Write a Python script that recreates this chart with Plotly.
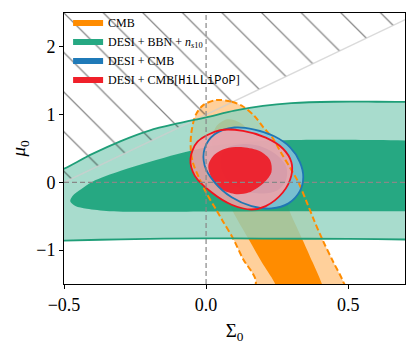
import plotly.graph_objects as go

# ---------------- axis ticks ----------------
x_ticks = [-0.5, 0.0, 0.5]
x_ticklabels = ["\u22120.5", "0.0", "0.5"]
y_ticks = [-1, 0, 1, 2]
y_ticklabels = ["\u22121", "0", "1", "2"]
x_range = [-0.5, 0.7]
y_range = [-1.5, 2.5]

# ---------------- excluded region (mu0 > 1 + 2 Sigma0) ----------------
excl_sigma = [-0.6, 0.8, 0.8, -0.6, -0.6]
excl_mu = [-0.2, 2.6, 2.7, 2.7, -0.2]
excl_line_sigma = [-0.6, 0.8]
excl_line_mu = [-0.2, 2.6]

# ---------------- CMB (orange) ----------------
cmb2_sigma = [0.035, 0.09, 0.13, 0.17, 0.20, 0.235, 0.262, 0.295, 0.325, 0.353, 0.38, 0.41, 0.447, 0.482, 0.51,
              0.16, 0.175, 0.13, 0.094, 0.06, 0.035, 0.0, -0.024, -0.047, -0.054, -0.052, -0.036, -0.01, 0.035]
cmb2_mu = [1.215, 1.19, 1.12, 0.98, 0.82, 0.65, 0.45, 0.22, 0.0, -0.28, -0.56, -0.85, -1.17, -1.46, -1.8,
           -1.8, -1.45, -1.13, -0.82, -0.58, -0.40, -0.15, 0.06, 0.30, 0.50, 0.73, 1.0, 1.14, 1.215]
cmb1_sigma = [0.075, 0.12, 0.16, 0.20, 0.235, 0.262, 0.294, 0.318, 0.341, 0.375, 0.406, 0.43,
              0.27, 0.241, 0.195, 0.153, 0.094, 0.055, 0.03, 0.022, 0.035, 0.075]
cmb1_mu = [0.93, 0.88, 0.72, 0.52, 0.28, 0.02, -0.425, -0.65, -0.86, -1.18, -1.48, -1.8,
           -1.8, -1.48, -1.17, -0.86, -0.425, -0.05, 0.30, 0.60, 0.82, 0.93]

# ---------------- DESI + BBN + ns10 (green) ----------------
bbn2_sigma = [-0.7, -0.6, -0.5, -0.4, -0.3, -0.2, -0.1, 0.0, 0.1, 0.2, 0.3, 0.45, 0.6, 0.75, 0.85, 0.95,
              0.95, 0.85, 0.75, 0.5, 0.2, 0.0, -0.3, -0.5, -0.6, -0.7, -0.7]
bbn2_mu = [-0.2, 0.0, 0.20, 0.42, 0.61, 0.765, 0.87, 0.96, 1.06, 1.13, 1.17, 1.19, 1.19, 1.185, 1.18, 1.18,
           -0.845, -0.845, -0.845, -0.835, -0.83, -0.826, -0.84, -0.86, -0.86, -0.86, -0.2]
bbn1_sigma = [-0.478, -0.47, -0.44, -0.40, -0.3, -0.2, -0.1, 0.0, 0.1, 0.2, 0.3, 0.45, 0.6, 0.75, 0.85, 0.95,
              0.95, 0.85, 0.75, 0.6, 0.3, 0.0, -0.2, -0.34, -0.42, -0.46, -0.478]
bbn1_mu = [-0.28, -0.2, -0.1, 0.01, 0.17, 0.30, 0.42, 0.52, 0.58, 0.61, 0.625, 0.63, 0.625, 0.615, 0.61, 0.61,
           -0.425, -0.425, -0.425, -0.425, -0.425, -0.43, -0.435, -0.425, -0.39, -0.35, -0.28]

# ---------------- DESI + CMB (blue) ----------------
dc2_sigma = [0.10, 0.17, 0.24, 0.295, 0.33, 0.342, 0.33, 0.29, 0.23, 0.16, 0.09, 0.03, -0.005, -0.005, 0.03, 0.10]
dc2_mu = [0.81, 0.78, 0.68, 0.52, 0.30, 0.08, -0.13, -0.31, -0.385, -0.35, -0.22, 0.0, 0.25, 0.50, 0.71, 0.81]
dc1_sigma = [0.08, 0.14, 0.20, 0.25, 0.283, 0.28, 0.25, 0.20, 0.13, 0.07, 0.05, 0.055, 0.08]
dc1_mu = [0.52, 0.565, 0.52, 0.40, 0.22, 0.02, -0.12, -0.165, -0.12, 0.05, 0.25, 0.42, 0.52]

# ---------------- DESI + CMB[HiLLiPoP] (red) ----------------
dh2_sigma = [0.05, 0.13, 0.21, 0.27, 0.30, 0.30, 0.27, 0.21, 0.16, 0.09, 0.02, -0.04, -0.055, -0.03, 0.05]
dh2_mu = [0.77, 0.76, 0.66, 0.50, 0.30, 0.10, -0.15, -0.35, -0.40, -0.33, -0.15, 0.10, 0.35, 0.60, 0.77]
dh1_sigma = [0.07, 0.13, 0.19, 0.225, 0.23, 0.205, 0.15, 0.10, 0.05, 0.02, 0.008, 0.03, 0.07]
dh1_mu = [0.50, 0.52, 0.46, 0.33, 0.15, 0.0, -0.15, -0.17, -0.09, 0.06, 0.25, 0.41, 0.50]

# ---------------- legend ----------------
legend_names = ["CMB", "DESI + BBN + <i>n</i><sub><i>s</i>10</sub>", "DESI + CMB",
                "DESI + CMB[<span style=\"font-family:'Liberation Mono'\">HiLLiPoP</span>]"]
legend_colors = ["#ff8c00", "#26a882", "#1f7ab8", "#f0202a"]

SERIF = "'Liberation Serif', 'DejaVu Serif', serif"

fig = go.Figure()


def fill_region(xs, ys, color):
    fig.add_trace(go.Scatter(x=xs, y=ys, mode="lines", fill="toself", fillcolor=color,
                             line=dict(width=0, color="rgba(0,0,0,0)", shape="spline", smoothing=0.9),
                             showlegend=False, hoverinfo="skip"))


def outline(xs, ys, color, width=1.8, dash="solid"):
    fig.add_trace(go.Scatter(x=xs, y=ys, mode="lines",
                             line=dict(width=width, color=color, dash=dash, shape="spline", smoothing=0.9),
                             showlegend=False, hoverinfo="skip"))


# CMB fills
fill_region(cmb2_sigma, cmb2_mu, "#ffd09b")
fill_region(cmb1_sigma, cmb1_mu, "#ff8c00")
# green fills
fill_region(bbn2_sigma, bbn2_mu, "rgba(146,211,192,0.8)")
fill_region(bbn1_sigma, bbn1_mu, "rgba(5,155,111,0.8)")

# hatched excluded region
fig.add_trace(go.Scatter(x=excl_sigma, y=excl_mu, mode="lines", fill="toself",
                         fillcolor="rgba(0,0,0,0)",
                         fillpattern=dict(shape="\\", fgcolor="#111111", bgcolor="rgba(0,0,0,0)",
                                          size=28, solidity=0.045),
                         line=dict(width=0, color="rgba(0,0,0,0)"),
                         showlegend=False, hoverinfo="skip"))
fig.add_trace(go.Scatter(x=excl_line_sigma, y=excl_line_mu, mode="lines",
                         line=dict(width=1.5, color="rgba(205,205,205,0.75)"),
                         showlegend=False, hoverinfo="skip"))

# blue fills
fill_region(dc2_sigma, dc2_mu, "rgba(135,195,222,0.85)")
fill_region(dc1_sigma, dc1_mu, "rgba(40,110,170,0.8)")
# red fills
fill_region(dh2_sigma, dh2_mu, "rgba(243,162,168,0.85)")
fill_region(dh1_sigma, dh1_mu, "rgba(238,24,34,0.9)")

# outlines
outline(cmb2_sigma, cmb2_mu, "#ff8c00", width=2, dash="6px,3px")
outline(bbn2_sigma, bbn2_mu, "#1f9e78", width=1.8)
outline(dc2_sigma, dc2_mu, "#1f77b4", width=1.8)
outline(dh2_sigma, dh2_mu, "#f0141e", width=1.8)

# reference lines
fig.add_vline(x=0, line=dict(color="#888888", width=1.2, dash="5px,3px"))
fig.add_hline(y=0, line=dict(color="#888888", width=1.2, dash="5px,3px"))

# legend entries
for name, color in zip(legend_names, legend_colors):
    fig.add_trace(go.Scatter(x=[None], y=[None], mode="lines", fill="toself", fillcolor=color,
                             line=dict(width=0, color=color), name=name, showlegend=True))

fig.update_layout(
    width=414, height=348,
    margin=dict(l=64, r=9, t=8, b=64),
    paper_bgcolor="white", plot_bgcolor="white",
    font=dict(family=SERIF, color="black"),
    showlegend=True,
    legend=dict(x=0.012, y=1.02, xanchor="left", yanchor="top",
                bgcolor="rgba(0,0,0,0)",
                font=dict(family=SERIF, size=12, color="black"), borderwidth=0,
                tracegroupgap=0),
)
fig.update_xaxes(range=x_range, tickvals=x_ticks, ticktext=x_ticklabels,
                 showgrid=False, zeroline=False, showline=True, linecolor="black", linewidth=1,
                 mirror=True, ticks="outside", ticklen=4, tickcolor="black",
                 tickfont=dict(family=SERIF, size=18),
                 title=dict(text="\u03a3<sub>0</sub>", font=dict(family=SERIF, size=19), standoff=10))
fig.update_yaxes(range=y_range, tickvals=y_ticks, ticktext=y_ticklabels,
                 showgrid=False, zeroline=False, showline=True, linecolor="black", linewidth=1,
                 mirror=True, ticks="outside", ticklen=4, tickcolor="black",
                 tickfont=dict(family=SERIF, size=18),
                 title=dict(text="<i>\u03bc</i><sub>0</sub>", font=dict(family=SERIF, size=19), standoff=5))

fig.write_html("out.html", config={"displayModeBar": False},
               post_script="document.body.style.margin='0px';")
